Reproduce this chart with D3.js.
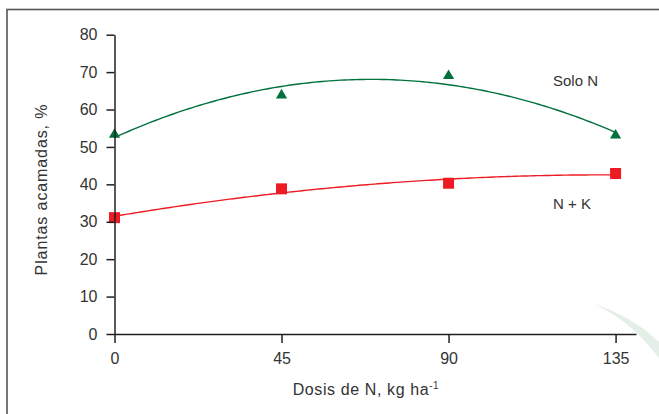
<!DOCTYPE html>
<html><head><meta charset="utf-8">
<script src="https://cdn.jsdelivr.net/npm/d3@7"></script>
<style>
html,body{margin:0;padding:0;background:#fff;}
svg{display:block;font-family:"Liberation Sans",Arial,Helvetica,sans-serif;}
</style></head>
<body>
<svg id="chart" width="659" height="414"></svg>
<script>
// Data
const doses = [0, 45, 90, 135];
const soloN = [53.3, 63.8, 69.0, 53.1];
const nK = [31.1, 38.8, 40.3, 42.9];
const xTicks = [0, 45, 90, 135];
const yTicks = [0, 10, 20, 30, 40, 50, 60, 70, 80];
const seriesLabels = ["Solo N", "N + K"];

const svg = d3.select("#chart");
const textColor = "#333333";
const axisColor = "#231f20";
const green = "#00703c";
const red = "#ed1c24";

// decorative watermark swoosh
svg.append("path")
  .attr("d", "M592,303 C625,314 650,330 668,352 L668,372 C650,342 625,318 592,303 Z")
  .attr("fill", "#e4efe7");

// outer frame
svg.append("rect").attr("x", 7).attr("y", 9.5).attr("width", 700).attr("height", 420)
  .attr("fill", "none").attr("stroke", "#555").attr("stroke-width", 1.6);

const x = d3.scaleLinear().domain([0, 140.5]).range([114.5, 636]);
const y = d3.scaleLinear().domain([0, 80]).range([334, 34.7]);

// least-squares quadratic fit (trend line)
function quadFit(xs, ys) {
  const n = xs.length;
  let s = [0,0,0,0,0], t = [0,0,0];
  for (let i = 0; i < n; i++) {
    const xi = xs[i], yi = ys[i];
    for (let k = 0; k < 5; k++) s[k] += Math.pow(xi, k);
    for (let k = 0; k < 3; k++) t[k] += Math.pow(xi, k) * yi;
  }
  const A = [[s[0],s[1],s[2],t[0]],[s[1],s[2],s[3],t[1]],[s[2],s[3],s[4],t[2]]];
  for (let i = 0; i < 3; i++) {
    for (let j = i + 1; j < 3; j++) {
      const f = A[j][i] / A[i][i];
      for (let k = i; k < 4; k++) A[j][k] -= f * A[i][k];
    }
  }
  const c = [0,0,0];
  for (let i = 2; i >= 0; i--) {
    let v = A[i][3];
    for (let k = i + 1; k < 3; k++) v -= A[i][k] * c[k];
    c[i] = v / A[i][i];
  }
  return xv => c[0] + c[1] * xv + c[2] * xv * xv;
}

const series = [
  {name: seriesLabels[0], values: soloN, color: green, symbol: d3.symbolTriangle, size: 54},
  {name: seriesLabels[1], values: nK, color: red, symbol: d3.symbolSquare, size: 121}
];

const line = d3.line().x(d => x(d[0])).y(d => y(d[1]));
series.forEach(s => {
  const f = quadFit(doses, s.values);
  const pts = d3.range(0, 135.01, 1).map(v => [v, f(v)]);
  svg.append("path").datum(pts).attr("d", line)
    .attr("fill", "none").attr("stroke", s.color).attr("stroke-width", 1.4);
});
series.forEach(s => {
  svg.append("g").selectAll("path").data(doses.map((d, i) => [d, s.values[i]]))
    .join("path")
    .attr("d", d3.symbol().type(s.symbol).size(s.size))
    .attr("transform", d => `translate(${x(d[0])},${y(d[1])})`)
    .attr("fill", s.color);
});

// axes
const yAxis = svg.append("g").attr("transform", `translate(${x(0)},0)`)
  .call(d3.axisLeft(y).tickValues(yTicks).tickSize(8).tickSizeOuter(0).tickPadding(9));
const xAxis = svg.append("g").attr("transform", `translate(0,${y(0)})`)
  .call(d3.axisBottom(x).tickValues(xTicks).tickSize(9).tickSizeOuter(0).tickPadding(9.3));
[xAxis, yAxis].forEach(g => {
  g.selectAll("path,line").attr("stroke", axisColor).attr("stroke-width", 1.5);
  g.selectAll("text").attr("fill", textColor).style("font-size", "16px")
    .style("font-family", "'Liberation Sans',Arial,sans-serif");
});

// axis titles
const xt = svg.append("text").attr("x", 366).attr("y", 395).attr("text-anchor", "middle")
  .attr("fill", textColor).style("font-size", "16px").style("letter-spacing", "0.6px");
xt.append("tspan").text("Dosis de N, kg ha");
xt.append("tspan").attr("dy", -6).style("font-size", "10px").text("-1");

svg.append("text").attr("transform", "translate(47,189.5) rotate(-90)")
  .attr("text-anchor", "middle").attr("fill", textColor)
  .style("font-size", "16px").style("letter-spacing", "0.9px")
  .text("Plantas acamadas, %");

// series labels
svg.append("text").attr("x", 553).attr("y", 86).attr("fill", textColor)
  .style("font-size", "15px").text(seriesLabels[0]);
svg.append("text").attr("x", 553).attr("y", 209).attr("fill", textColor)
  .style("font-size", "15px").text(seriesLabels[1]);
</script>
</body></html>
